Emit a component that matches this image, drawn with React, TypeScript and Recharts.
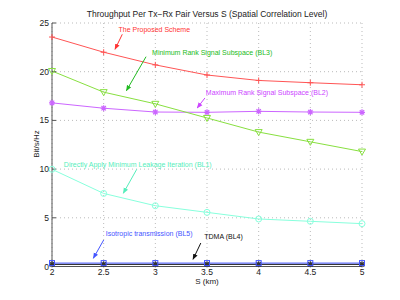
import {
  LineChart, Line, XAxis, YAxis, CartesianGrid, ReferenceLine, ReferenceDot,
} from "recharts";

const sValues = [2, 2.5, 3, 3.5, 4, 4.5, 5];
const proposed = [23.56, 22.0, 20.7, 19.66, 19.1, 18.87, 18.66];
const bl3 = [20.07, 17.9, 16.7, 15.25, 13.8, 12.8, 11.8];
const bl2 = [16.8, 16.25, 15.86, 15.83, 15.93, 15.86, 15.83];
const bl1 = [9.98, 7.5, 6.24, 5.56, 4.88, 4.64, 4.4];
const bl5 = [0.35, 0.35, 0.35, 0.35, 0.35, 0.35, 0.35];
const bl4 = [0.22, 0.22, 0.22, 0.22, 0.22, 0.22, 0.22];
const xTicks = [2, 2.5, 3, 3.5, 4, 4.5, 5];
const yTicks = [0, 5, 10, 15, 20, 25];

// annotation text and arrows in data units
const notes = [
  { text: "The Proposed Scheme", x: 2.99, y: 24.28, color: "#ff3333", from: [2.68, 23.84], to: [2.61, 22.3] },
  { text: "Minimum Rank Signal Subspace (BL3)", x: 3.55, y: 22.0, color: "#22bb22", from: [2.91, 21.54], to: [2.72, 18.05] },
  { text: "Maximum Rank Signal Subspace (BL2)", x: 4.08, y: 17.85, color: "#cc44ff", from: [3.48, 17.3], to: [3.405, 16.28] },
  { text: "Directly Apply Minimum Leakage Iteration (BL1)", x: 2.83, y: 10.52, color: "#55eebb", from: [2.82, 9.98], to: [2.69, 7.52] },
  { text: "Isotropic transmission (BL5)", x: 2.94, y: 3.41, color: "#4455ff", from: [2.5, 2.72], to: [2.4, 0.84] },
  { text: "TDMA (BL4)", x: 3.66, y: 3.06, color: "#111111", from: [3.44, 2.41], to: [3.365, 0.74] },
];

const data = sValues.map((s, i) => ({
  s, proposed: proposed[i], bl3: bl3[i], bl2: bl2[i], bl1: bl1[i], bl5: bl5[i], bl4: bl4[i],
}));

const font = "Liberation Sans, Arial, sans-serif";

const Plus = (color: string) => (p: any) => (
  <path key={p.index} d={`M${p.cx - 3},${p.cy}h6M${p.cx},${p.cy - 3}v6`} stroke={color} strokeWidth={1} fill="none" />
);
const TriDown = (color: string) => (p: any) => (
  <path key={p.index} d={`M${p.cx - 3.5},${p.cy - 2.5}h7l-3.5,6z`} stroke={color} strokeWidth={1} fill="none" />
);
const Star = (color: string) => (p: any) => (
  <path key={p.index}
    d={`M${p.cx - 3},${p.cy}h6M${p.cx},${p.cy - 3}v6M${p.cx - 2.2},${p.cy - 2.2}l4.4,4.4M${p.cx - 2.2},${p.cy + 2.2}l4.4,-4.4`}
    stroke={color} strokeWidth={1.2} fill="none" />
);
const Circle = (color: string) => (p: any) => (
  <circle key={p.index} cx={p.cx} cy={p.cy} r={3} stroke={color} strokeWidth={1} fill="none" />
);
const Square = (color: string) => (p: any) => (
  <rect key={p.index} x={p.cx - 2.5} y={p.cy - 2.5} width={5} height={5} stroke={color} strokeWidth={1} fill="none" />
);

const tickStyle = { fontSize: 8.5, fontFamily: font, fill: "#222" };

export default function App() {
  return (
    <div style={{ position: "absolute", left: 0, top: 0, width: 400, height: 300, background: "#fff" }}>
      <svg width={0} height={0} style={{ position: "absolute" }}>
        <defs>
          {notes.map((n, i) => (
            <marker key={i} id={`arr${i}`} viewBox="0 0 10 10" refX={9} refY={5}
              markerWidth={6} markerHeight={6} orient="auto" markerUnits="userSpaceOnUse">
              <path d="M0,1L10,5L0,9z" fill={n.color} />
            </marker>
          ))}
        </defs>
      </svg>
      <div style={{
        position: "absolute", top: 9, left: 0, width: 414, textAlign: "center",
        fontFamily: font, fontSize: 8.5, color: "#222",
      }}>
        Throughput Per Tx−Rx Pair Versus S (Spatial Correlation Level)
      </div>
      <div style={{
        position: "absolute", top: 277, left: 0, width: 414, textAlign: "center",
        fontFamily: font, fontSize: 8, lineHeight: "9px", color: "#222",
      }}>
        S (km)
      </div>
      <div style={{
        position: "absolute", left: 36, top: 144, transform: "translate(-50%,-50%) rotate(-90deg)",
        fontFamily: font, fontSize: 8, color: "#222", whiteSpace: "nowrap",
      }}>
        Bit/s/Hz
      </div>
      <LineChart width={400} height={300} data={data}
        margin={{ top: 23, right: 38, bottom: 13.5, left: 22 }}>
        <CartesianGrid stroke="#bbb" strokeDasharray="1 3" />
        <XAxis dataKey="s" type="number" domain={[2, 5]} ticks={xTicks} interval={0}
          tick={tickStyle} tickLine={{ stroke: "#555" }} tickSize={-4} tickMargin={6}
          axisLine={{ stroke: "#555" }} height={20} />
        <XAxis xAxisId="top" orientation="top" dataKey="s" type="number" domain={[2, 5]} ticks={xTicks}
          tick={false} tickSize={-4} tickLine={{ stroke: "#555" }} axisLine={{ stroke: "#555" }} height={0} />
        <YAxis type="number" domain={[0, 25]} ticks={yTicks} interval={0}
          tick={tickStyle} tickLine={{ stroke: "#555" }} tickSize={-4} tickMargin={7}
          axisLine={{ stroke: "#555" }} width={30} />
        <YAxis yAxisId="right" orientation="right" type="number" domain={[0, 25]} ticks={yTicks}
          tick={false} tickSize={-4} tickLine={{ stroke: "#555" }} axisLine={{ stroke: "#555" }} width={0} />
        <Line dataKey="bl4" stroke="#111" strokeWidth={1} dot={Star("#333")} isAnimationActive={false} />
        <Line dataKey="bl5" stroke="#4455ff" strokeWidth={1} dot={Square("#4455ff")} isAnimationActive={false} />
        <Line dataKey="bl1" stroke="#88ffdd" strokeWidth={1} dot={Circle("#88ffdd")} isAnimationActive={false} />
        <Line dataKey="bl2" stroke="#cc66ff" strokeWidth={1} dot={Star("#cc66ff")} isAnimationActive={false} />
        <Line dataKey="bl3" stroke="#88e040" strokeWidth={1} dot={TriDown("#88e040")} isAnimationActive={false} />
        <Line dataKey="proposed" stroke="#ff5555" strokeWidth={1} dot={Plus("#ff5555")} isAnimationActive={false} />
        {notes.map((n, i) => (
          <ReferenceLine key={`l${i}`} segment={[{ x: n.from[0], y: n.from[1] }, { x: n.to[0], y: n.to[1] }]}
            stroke={n.color} strokeWidth={1} markerEnd={`url(#arr${i})`} ifOverflow="visible" />
        ))}
        {notes.map((n, i) => (
          <ReferenceDot key={`t${i}`} x={n.x} y={n.y} r={0} stroke="none" fill="none" ifOverflow="visible"
            label={{ value: n.text, position: "center", fill: n.color, fontSize: 7, fontFamily: font }} />
        ))}
      </LineChart>
    </div>
  );
}
